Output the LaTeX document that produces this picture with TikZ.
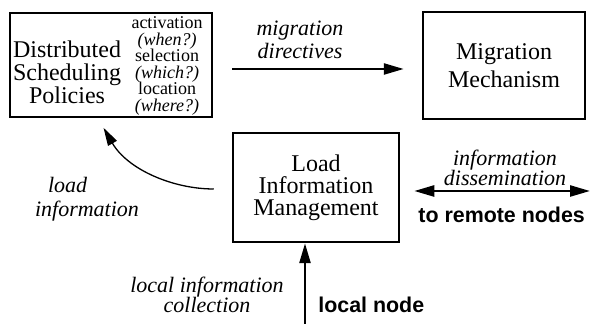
\documentclass[tikz,border=0pt]{standalone}
\usepackage{fontspec}
\setmainfont{Liberation Serif}[ItalicFont={Liberation Serif Italic},
  BoldFont={Liberation Serif Bold}]
\setsansfont{Liberation Sans}
\usetikzlibrary{arrows.meta}

\begin{document}
\begin{tikzpicture}[x=0.5pt, y=0.5pt,
    box/.style={draw, line width=1.25pt, inner sep=0pt, align=center,
      font=\fontsize{12}{11}\selectfont},
    lbl/.style={align=center, inner sep=0pt, font=\fontsize{11}{10}\selectfont\itshape},
    endlbl/.style={inner sep=0pt, font=\fontsize{10.7}{12}\selectfont\sffamily\bfseries},
    flow/.style={line width=1.25pt, -{Triangle[length=10pt, width=5.5pt]}},
    curvy/.style={line width=0.65pt, -{Triangle[length=9pt, width=5pt]}}]
    \useasboundingbox (0,0) rectangle (590,-324);

    % the three boxes
    \node[box, minimum width=101pt, minimum height=52pt] (pol) at (111,-65) {};
    \node[box, minimum width=81pt, minimum height=53.5pt,
      font=\fontsize{12}{14}\selectfont] (mig) at (504,-65.5) {Migration\\Mechanism};
    \node[box, minimum width=83pt, minimum height=54.5pt] (lim) at (316,-187.5)
      {Load\\Information\\Management};

    % inside the policies box
    \node[align=center, inner sep=0pt, font=\fontsize{12}{11.5}\selectfont]
      (poltxt) at (67,-72) {Distributed\\Scheduling\\Policies};
    \node[align=center, inner sep=0pt, font=\fontsize{9}{8.3}\selectfont]
      (polq) at (167,-66) {activation\\\textit{(when?)}\\selection\\
        \textit{(which?)}\\location\\\textit{(where?)}};

    % free ends
    \coordinate (remote) at (590,-191);
    \coordinate (local) at (305,-324);

    % connectors
    \draw[flow, shorten <=9.5pt, shorten >=9pt]
      ([yshift=-2pt]pol.east) -- ([yshift=-2pt]pol.east -| mig.west);
    \draw[flow, {Triangle[length=10pt, width=5.5pt]}-{Triangle[length=10pt, width=5.5pt]},
      shorten <=7pt] (lim.east |- remote) -- (remote);
    \draw[flow] (local) -- (local |- lim.south);
    \draw[curvy, shorten <=9pt, shorten >=5.5pt]
      ([yshift=-0.75pt]lim.west) to[out=180, in=-60] ([xshift=-6.5pt]pol.south);

    % labels
    \node[lbl, font=\fontsize{11}{11.5}\selectfont\itshape] (mdlbl) at (300,-40)
      {migration\\directives};
    \node[lbl] (idlbl) at (505,-168) {information\\dissemination};
    \node[lbl] (liclbl) at (207,-295) {local information\\collection};
    \node[lbl, align=left, font=\fontsize{11}{12}\selectfont\itshape] (lilbl) at (87,-199)
      {\hspace*{6.5pt}load\\information};
    \node[endlbl, anchor=base west] (remlbl) at (418,-223) {to remote nodes};
    \node[endlbl, anchor=base west] (loclbl) at (318,-313) {local node};
\end{tikzpicture}
\end{document}
